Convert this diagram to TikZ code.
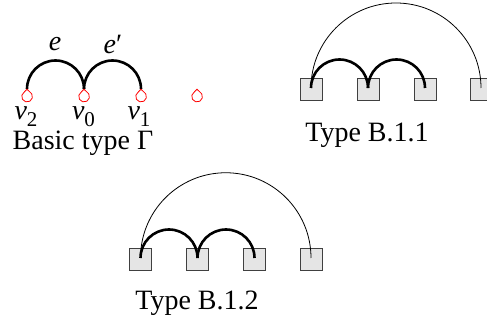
\documentclass[tikz,border=0pt]{standalone}
\usepackage{fontspec}
\setmainfont{Liberation Serif}
\begin{document}
\begin{tikzpicture}[x=1pt,y=-1pt,
  sq/.style={draw=black!75,fill=black!10,line width=0.8pt,minimum size=22pt,inner sep=0pt},
  thickarc/.style={line width=2.6pt},
  thinarc/.style={line width=0.8pt},
  lbl/.style={inner sep=0pt,font=\fontsize{28}{30}\selectfont},
  vtx/.style={draw=red,line width=0.8pt}]
\useasboundingbox (0,0) rectangle (487,320);
\newcommand{\redv}[2]{\draw[vtx] (#1,#2-7.2) -- (#1-2.6,#2-4.6) arc[start angle=240,end angle=-60,radius=5.4] -- cycle;}
\newcommand{\vsub}[1]{\itshape v\upshape\raisebox{-0.25em}{\fontsize{21}{21}\selectfont #1}}
% Basic type
\coordinate (v2) at (27,89);
\coordinate (v0) at (84,89);
\coordinate (v1) at (141,89);
\coordinate (v3) at (197,89);
\draw[thickarc] (v2) arc[start angle=180,end angle=360,radius=28.5];
\draw[thickarc] (v0) arc[start angle=180,end angle=360,radius=28.5];
\redv{27}{96.5}
\redv{84}{96.5}
\redv{141}{96.5}
\redv{197}{96.5}
\node[lbl] (le) at (55,44) {\itshape e};
\node[lbl] (lep) at (113,44) {\itshape e\upshape′};
\node[lbl] (lv2) at (26,117) {\vsub{2}};
\node[lbl] (lv0) at (83.5,117) {\vsub{0}};
\node[lbl] (lv1) at (139,117) {\vsub{1}};
\node[lbl] (lb) at (83,143) {Basic type Γ};
% Type B.1.1
\node[sq] (a1) at (311,89) {};
\node[sq] (a2) at (368,89) {};
\node[sq] (a3) at (425,89) {};
\node[sq] (a4) at (481,89) {};
\draw[thinarc] (a1.center) ++(0,-1) arc[start angle=180,end angle=360,radius=85];
\draw[thickarc] (a1.center) ++(0,-1) arc[start angle=180,end angle=360,radius=28.5];
\draw[thickarc] (a2.center) ++(0,-1) arc[start angle=180,end angle=360,radius=28.5];
\node[lbl] (la) at (367,135) {Type B.1.1};
% Type B.1.2
\node[sq] (b1) at (140.5,259) {};
\node[sq] (b2) at (197.5,259) {};
\node[sq] (b3) at (254.5,259) {};
\node[sq] (b4) at (311,259) {};
\draw[thinarc] (b1.center) ++(0,-1) arc[start angle=180,end angle=360,radius=85.25];
\draw[thickarc] (b1.center) ++(0,-1) arc[start angle=180,end angle=360,radius=28.5];
\draw[thickarc] (b2.center) ++(0,-1) arc[start angle=180,end angle=360,radius=28.5];
\node[lbl] (lbb) at (197,303) {Type B.1.2};
\end{tikzpicture}
\end{document}
